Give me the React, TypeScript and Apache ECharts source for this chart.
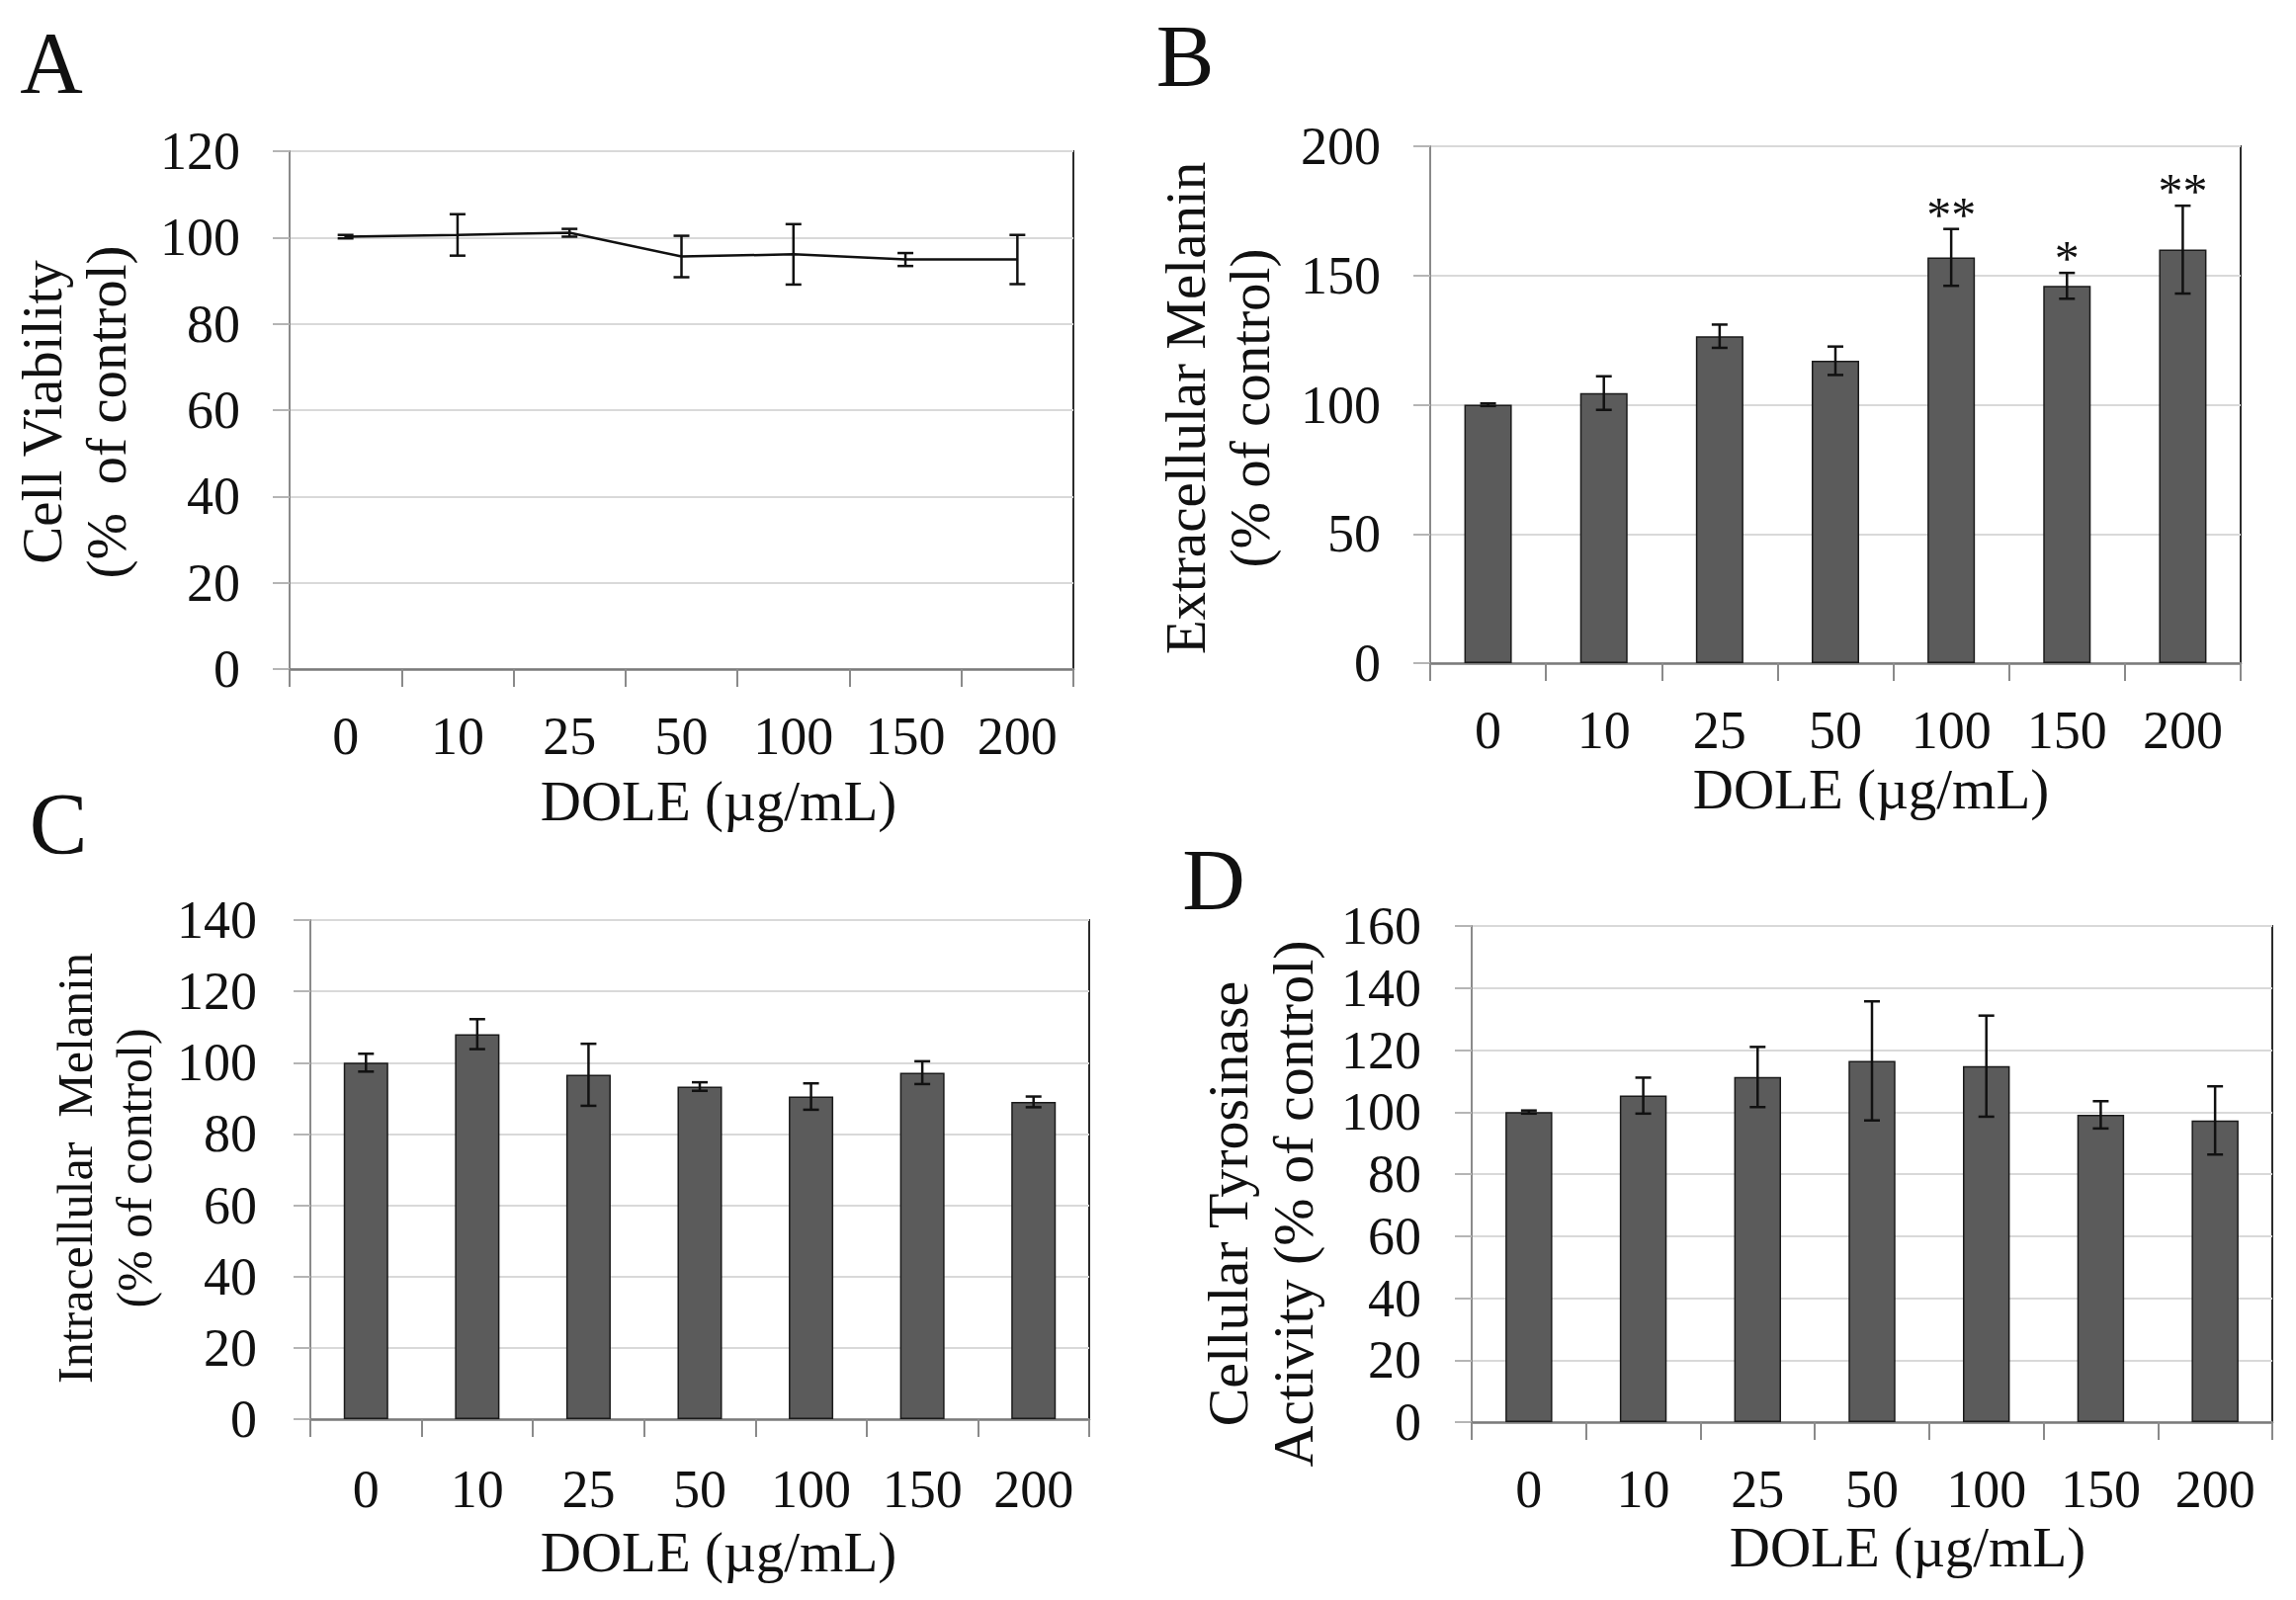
import React, { useEffect, useRef } from "react";
import * as echarts from "echarts";

const categories = ["0", "10", "25", "50", "100", "150", "200"];

const viability = [100.2, 100.6, 101.1, 95.6, 96.1, 94.9, 94.9];
const viabilityErr = [0.4, 4.8, 0.9, 4.8, 7.0, 1.5, 5.7];

const extracellular = [100, 104.5, 126.5, 117, 157, 146, 160];
const extracellularErr = [0.5, 6.5, 4.5, 5.5, 11, 5, 17];
const extracellularSig = ["", "", "", "", "**", "*", "**"];

const intracellular = [100, 108, 96.6, 93.3, 90.5, 97.2, 89];
const intracellularErr = [2.5, 4.2, 8.7, 1.2, 3.7, 3.2, 1.5];

const tyrosinase = [100, 105.3, 111.3, 116.5, 114.8, 99.1, 97.3];
const tyrosinaseErr = [0.5, 5.8, 9.7, 19.2, 16.3, 4.4, 11];

const FONT = "'Liberation Serif', 'Times New Roman', serif";
const INK = "#111111";
const BAR = "#5b5b5b";
const GRID = "#d9d9d9";

type Panel = {
  left: number;
  top: number;
  width: number;
  height: number;
  max: number;
  interval: number;
  xLabelMargin: number;
  yLabelMargin: number;
};

const panels: Panel[] = [
  { left: 293, top: 153, width: 793, height: 524, max: 120, interval: 20, xLabelMargin: 41, yLabelMargin: 50 },
  { left: 1447, top: 148, width: 820, height: 523, max: 200, interval: 50, xLabelMargin: 41, yLabelMargin: 50 },
  { left: 314, top: 931, width: 788, height: 505, max: 140, interval: 20, xLabelMargin: 44, yLabelMargin: 54 },
  { left: 1489, top: 937, width: 810, height: 502, max: 160, interval: 20, xLabelMargin: 41, yLabelMargin: 51 },
];

function errorRenderer(sig?: string[]) {
  return (params: any, api: any) => {
    const idx = api.value(0);
    const val = api.value(1);
    const err = api.value(2);
    const hi = api.coord([idx, val + err]);
    const lo = api.coord([idx, val - err]);
    const cap = 8;
    const style = { stroke: INK, lineWidth: 2.5 };
    const children: any[] = [
      { type: "line", shape: { x1: hi[0], y1: hi[1], x2: lo[0], y2: lo[1] }, style },
      { type: "line", shape: { x1: hi[0] - cap, y1: hi[1], x2: hi[0] + cap, y2: hi[1] }, style },
      { type: "line", shape: { x1: lo[0] - cap, y1: lo[1], x2: lo[0] + cap, y2: lo[1] }, style },
    ];
    if (sig && sig[params.dataIndex]) {
      children.push({
        type: "text",
        x: hi[0],
        y: hi[1] + 10,
        style: {
          text: sig[params.dataIndex],
          align: "center",
          verticalAlign: "bottom",
          fontSize: 50,
          fontFamily: FONT,
          fill: INK,
        },
      });
    }
    return { type: "group", children };
  };
}

function errData(values: number[], errs: number[]) {
  return values.map((v, i) => [i, v, errs[i]]);
}

export default function App() {
  const ref = useRef<HTMLDivElement>(null);

  useEffect(() => {
    document.body.style.margin = "0";
    if (!ref.current) return;
    const chart = echarts.init(ref.current, undefined, { renderer: "svg" });

    const grid = panels.map((p) => ({
      left: p.left,
      top: p.top,
      width: p.width,
      height: p.height,
      show: true,
      borderColor: "#2b2b2b",
      borderWidth: 2,
      backgroundColor: "transparent",
    }));

    const xAxis = panels.map((p, i) => ({
      type: "category",
      gridIndex: i,
      data: categories,
      boundaryGap: true,
      axisLine: { show: true, lineStyle: { color: "#7a7a7a", width: 2.5 } },
      axisTick: { show: true, interval: 0, length: 18, lineStyle: { color: "#8a8a8a", width: 2 } },
      axisLabel: { interval: 0, margin: p.xLabelMargin, fontSize: 54, fontFamily: FONT, color: INK },
      splitLine: { show: false },
    }));

    const yAxis = panels.map((p, i) => ({
      type: "value",
      gridIndex: i,
      min: 0,
      max: p.max,
      interval: p.interval,
      axisLine: { show: true, lineStyle: { color: "#8a8a8a", width: 2 } },
      axisTick: { show: true, length: 17, lineStyle: { color: "#b5b5b5", width: 2 } },
      axisLabel: { margin: p.yLabelMargin, fontSize: 54, fontFamily: FONT, color: INK },
      splitLine: { show: true, lineStyle: { color: GRID, width: 2 } },
    }));

    const barStyle = { color: BAR, borderColor: "#1a1a1a", borderWidth: 1.5 };

    const series: any[] = [
      {
        type: "line",
        name: "Cell Viability",
        xAxisIndex: 0,
        yAxisIndex: 0,
        data: viability,
        showSymbol: false,
        symbol: "none",
        lineStyle: { color: INK, width: 2.5 },
        z: 3,
      },
      {
        type: "custom",
        xAxisIndex: 0,
        yAxisIndex: 0,
        data: errData(viability, viabilityErr),
        encode: { x: 0, y: 1 },
        renderItem: errorRenderer(),
        z: 4,
      },
      {
        type: "bar",
        name: "Extracellular Melanin",
        xAxisIndex: 1,
        yAxisIndex: 1,
        data: extracellular,
        barWidth: "41%",
        itemStyle: barStyle,
      },
      {
        type: "custom",
        xAxisIndex: 1,
        yAxisIndex: 1,
        data: errData(extracellular, extracellularErr),
        encode: { x: 0, y: 1 },
        renderItem: errorRenderer(extracellularSig),
        z: 4,
      },
      {
        type: "bar",
        name: "Intracellular Melanin",
        xAxisIndex: 2,
        yAxisIndex: 2,
        data: intracellular,
        barWidth: "40%",
        itemStyle: barStyle,
      },
      {
        type: "custom",
        xAxisIndex: 2,
        yAxisIndex: 2,
        data: errData(intracellular, intracellularErr),
        encode: { x: 0, y: 1 },
        renderItem: errorRenderer(),
        z: 4,
      },
      {
        type: "bar",
        name: "Cellular Tyrosinase Activity",
        xAxisIndex: 3,
        yAxisIndex: 3,
        data: tyrosinase,
        barWidth: "41%",
        itemStyle: barStyle,
      },
      {
        type: "custom",
        xAxisIndex: 3,
        yAxisIndex: 3,
        data: errData(tyrosinase, tyrosinaseErr),
        encode: { x: 0, y: 1 },
        renderItem: errorRenderer(),
        z: 4,
      },
    ];

    const textStyle = (text: string, size: number, extra: any = {}) => ({
      text,
      fontSize: size,
      fontFamily: FONT,
      fill: INK,
      align: "center",
      verticalAlign: "middle",
      ...extra,
    });

    const graphic: any[] = [
      { type: "text", x: 52, y: 63, style: textStyle("A", 88) },
      { type: "text", x: 1199, y: 56, style: textStyle("B", 88) },
      { type: "text", x: 59, y: 833, style: textStyle("C", 88) },
      { type: "text", x: 1228, y: 890, style: textStyle("D", 88) },
      { type: "text", x: 75, y: 417, rotation: Math.PI / 2, style: textStyle("Cell Viability\n(%  of control)", 57, { lineHeight: 65 }) },
      { type: "text", x: 1232, y: 413, rotation: Math.PI / 2, style: textStyle("Extracellular Melanin\n(% of control)", 57, { lineHeight: 65 }) },
      { type: "text", x: 106, y: 1182, rotation: Math.PI / 2, style: textStyle("Intracellular  Melanin\n(% of control)", 50, { lineHeight: 60 }) },
      { type: "text", x: 1275, y: 1218, rotation: Math.PI / 2, style: textStyle("Cellular Tyrosinase\nActivity (% of control)", 58, { lineHeight: 66 }) },
      { type: "text", x: 727, y: 810, style: textStyle("DOLE (µg/mL)", 57) },
      { type: "text", x: 1893, y: 798, style: textStyle("DOLE (µg/mL)", 57) },
      { type: "text", x: 727, y: 1570, style: textStyle("DOLE (µg/mL)", 57) },
      { type: "text", x: 1930, y: 1565, style: textStyle("DOLE (µg/mL)", 57) },
    ];

    chart.setOption({
      animation: false,
      backgroundColor: "#ffffff",
      textStyle: { fontFamily: FONT },
      grid,
      xAxis,
      yAxis,
      series,
      graphic,
    });

    return () => {
      chart.dispose();
    };
  }, []);

  return <div ref={ref} style={{ width: 2323, height: 1619 }} />;
}
